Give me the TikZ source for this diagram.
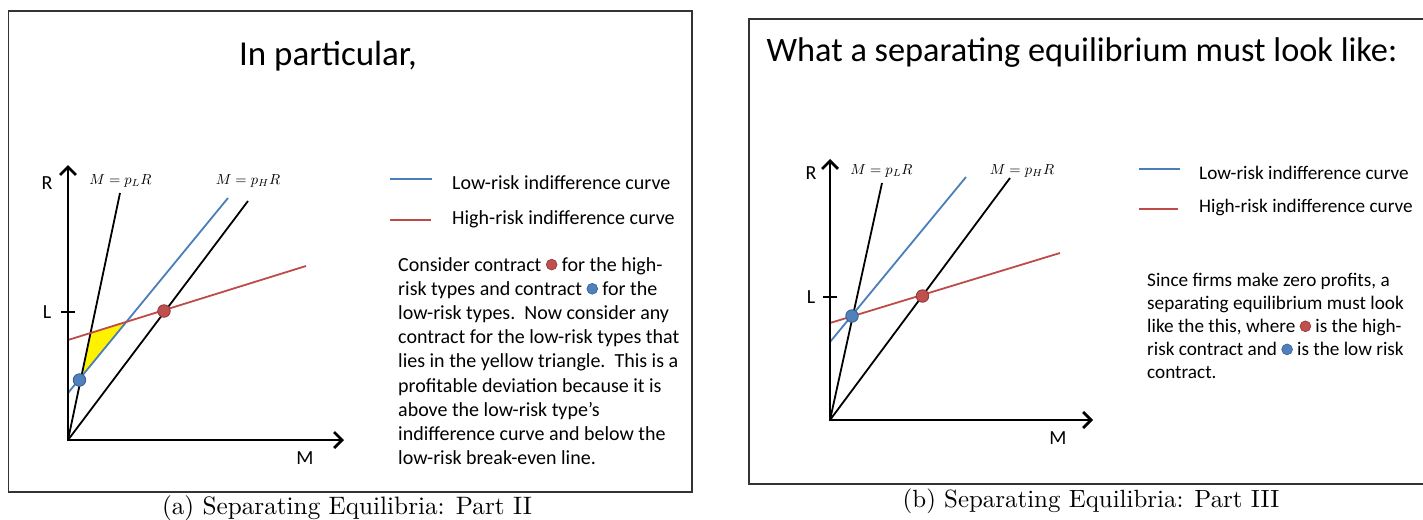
\documentclass[tikz,border=0pt]{standalone}
\usepackage{graphicx}
\usepackage{fontspec}
\newfontfamily\slide{Carlito}
\newfontfamily\capfont{lmroman10-regular}[Extension=.otf]
\usetikzlibrary{arrows.meta}
\definecolor{lowblue}{RGB}{74,126,187}
\definecolor{highred}{RGB}{190,75,72}
\definecolor{bfill}{RGB}{79,129,189}
\definecolor{bdraw}{RGB}{56,93,138}
\definecolor{rfill}{RGB}{192,80,77}
\definecolor{rdraw}{RGB}{140,56,53}
\newcommand\rdot{\tikz[baseline=-6.4pt]\draw[fill=rfill,draw=rdraw,line width=0.6pt] (0,0) circle[radius=5.4pt];}
\newcommand\bdot{\tikz[baseline=-6.4pt]\draw[fill=bfill,draw=bdraw,line width=0.6pt] (0,0) circle[radius=5.4pt];}
\newcommand\bigmath[1]{\scalebox{1.45}{$#1$}}
\begin{document}
\begin{tikzpicture}[x=1pt,y=-1pt,
  frame/.style={draw=black!80,line width=1.4pt},
  axis/.style={line width=2.8pt,line join=miter,{Straight Barb[length=8pt,width=16pt]}-{Straight Barb[length=8pt,width=16pt]}},
  bk/.style={line width=1.8pt,black},
  lowc/.style={line width=1.8pt,lowblue},
  highc/.style={line width=1.8pt,highred},
  bdotst/.style={circle,fill=bfill,draw=bdraw,line width=0.8pt,minimum size=12.5pt,inner sep=0},
  rdotst/.style={circle,fill=rfill,draw=rdraw,line width=0.8pt,minimum size=12.5pt,inner sep=0},
  lab/.style={font=\slide\fontsize{20}{24}\selectfont,inner sep=0},
  mlab/.style={font=\fontsize{10}{12}\selectfont,inner sep=0},
  txtA/.style={font=\slide\fontsize{20}{24}\selectfont,inner sep=0,anchor=base west},
  txtB/.style={font=\slide\fontsize{19.2}{23}\selectfont,inner sep=0,anchor=base west},
  captxt/.style={inner sep=0,anchor=base}]
\useasboundingbox (0,0) rectangle (1423,519);
\fill[white] (0,0) rectangle (1423,519);

% ================= LEFT PANEL =================
\draw[frame] (8.5,11) rectangle (692,492);
\node[font=\slide\fontsize{35}{42}\selectfont,inner sep=0,anchor=base] (titleA) at (328,66) {In particular,};

\coordinate (Oa) at (68,440);
\coordinate (Ya) at (68,165);
\coordinate (Xa) at (344,440);
\coordinate (pLa) at (120,193);
\coordinate (pHa) at (248,201);
\coordinate (b1a) at (68,393);
\coordinate (b2a) at (228,198);
\coordinate (r1a) at (68,340);
\coordinate (r2a) at (306,266);

\fill[yellow] (intersection of Oa--pLa and r1a--r2a) -- (intersection of b1a--b2a and r1a--r2a) -- (intersection of b1a--b2a and Oa--pLa) -- cycle;
\draw[bk] (Oa) -- (pLa);
\draw[bk] (Oa) -- (pHa);
\draw[lowc] (b1a) -- (b2a);
\draw[highc] (r1a) -- (r2a);
\draw[axis] (Ya) -- (Oa) -- (Xa);
\coordinate (La1) at (61,312);
\coordinate (La2) at (75,312);
\draw[line width=2pt] (La1) -- (La2);

\node[lab] (Ra) at (47,183) {R};
\node[lab] (Lla) at (47,312) {L};
\node[lab] (Ma) at (305,458) {M};
\node[mlab] (eqLa) at (120.5,181) {\bigmath{M=p_LR}};
\node[mlab] (eqHa) at (248,181) {\bigmath{M=p_HR}};

\node[bdotst] (blueA) at (79.5,380) {};
\node[rdotst] (redA) at (164,311) {};

% legend
\coordinate (lb1a) at (390,179);
\coordinate (lb2a) at (432,179);
\coordinate (lr1a) at (390,220);
\coordinate (lr2a) at (431,220);
\draw[lowc] (lb1a) -- (lb2a);
\draw[highc] (lr1a) -- (lr2a);
\node[txtA] (legLa) at (452,189) {Low-risk indifference curve};
\node[txtA] (legHa) at (452,224) {High-risk indifference curve};

\node[txtA] (pa0) at (398,271) {Consider contract \rdot{} for the high-};
\node[txtA] (pa1) at (398,295.2) {risk types and contract \bdot{} for the};
\node[txtA] (pa2) at (398,319.4) {low-risk types.\ \ Now consider any};
\node[txtA] (pa3) at (398,343.6) {contract for the low-risk types that};
\node[txtA] (pa4) at (398,367.8) {lies in the yellow triangle.\ \ This is a};
\node[txtA] (pa5) at (398,392) {profitable deviation because it is};
\node[txtA] (pa6) at (398,416.2) {above the low-risk type’s};
\node[txtA] (pa7) at (398,440.4) {indifference curve and below the};
\node[txtA] (pa8) at (398,464.6) {low-risk break-even line.};

\node[captxt,font=\capfont\fontsize{25.2}{30}\selectfont] (capA) at (347,514) {(a) Separating Equilibria: Part II};

% ================= RIGHT PANEL =================
\coordinate (fr1) at (1423,19);
\coordinate (fr2) at (749,19);
\coordinate (fr3) at (749,484);
\coordinate (fr4) at (1423,484);
\draw[frame] (fr1) -- (fr2) -- (fr3) -- (fr4);
\node[font=\slide\fontsize{34.3}{41}\selectfont,inner sep=0,anchor=base] (titleB) at (1082,62) {What a separating equilibrium must look like:};

\coordinate (Ob) at (830,420);
\coordinate (Yb) at (830,159);
\coordinate (Xb) at (1093,420);
\coordinate (pLb) at (882,183);
\coordinate (pHb) at (1010,178);
\coordinate (b1b) at (830,342);
\coordinate (b2b) at (966,177);
\coordinate (r1b) at (830,323);
\coordinate (r2b) at (1060,253);

\draw[bk] (Ob) -- (pLb);
\draw[bk] (Ob) -- (pHb);
\draw[lowc] (b1b) -- (b2b);
\draw[highc] (r1b) -- (r2b);
\draw[axis] (Yb) -- (Ob) -- (Xb);
\coordinate (Lb1) at (823,297);
\coordinate (Lb2) at (837,297);
\draw[line width=2pt] (Lb1) -- (Lb2);

\node[lab] (Rb) at (811,173) {R};
\node[lab] (Llb) at (811,297) {L};
\node[lab] (Mb) at (1058,438) {M};
\node[mlab] (eqLb) at (881.5,171) {\bigmath{M=p_LR}};
\node[mlab] (eqHb) at (1022,171) {\bigmath{M=p_HR}};

\node[bdotst] (blueB) at (852,316) {};
\node[rdotst] (redB) at (922.5,296) {};

\coordinate (lb1b) at (1139,169);
\coordinate (lb2b) at (1180,169);
\coordinate (lr1b) at (1139,209);
\coordinate (lr2b) at (1178,209);
\draw[lowc] (lb1b) -- (lb2b);
\draw[highc] (lr1b) -- (lr2b);
\node[txtB] (legLb) at (1199,179) {Low-risk indifference curve};
\node[txtB] (legHb) at (1199,212) {High-risk indifference curve};

\node[txtB] (pb0) at (1147,286.5) {Since firms make zero profits, a};
\node[txtB] (pb1) at (1147,309.6) {separating equilibrium must look};
\node[txtB] (pb2) at (1147,332.7) {like the this, where \rdot{} is the high-};
\node[txtB] (pb3) at (1147,355.8) {risk contract and \bdot{} is the low risk};
\node[txtB] (pb4) at (1147,378.9) {contract.};

\node[captxt,font=\capfont\fontsize{24.9}{30}\selectfont] (capB) at (1091,507) {(b) Separating Equilibria: Part III};
\end{tikzpicture}
\end{document}
